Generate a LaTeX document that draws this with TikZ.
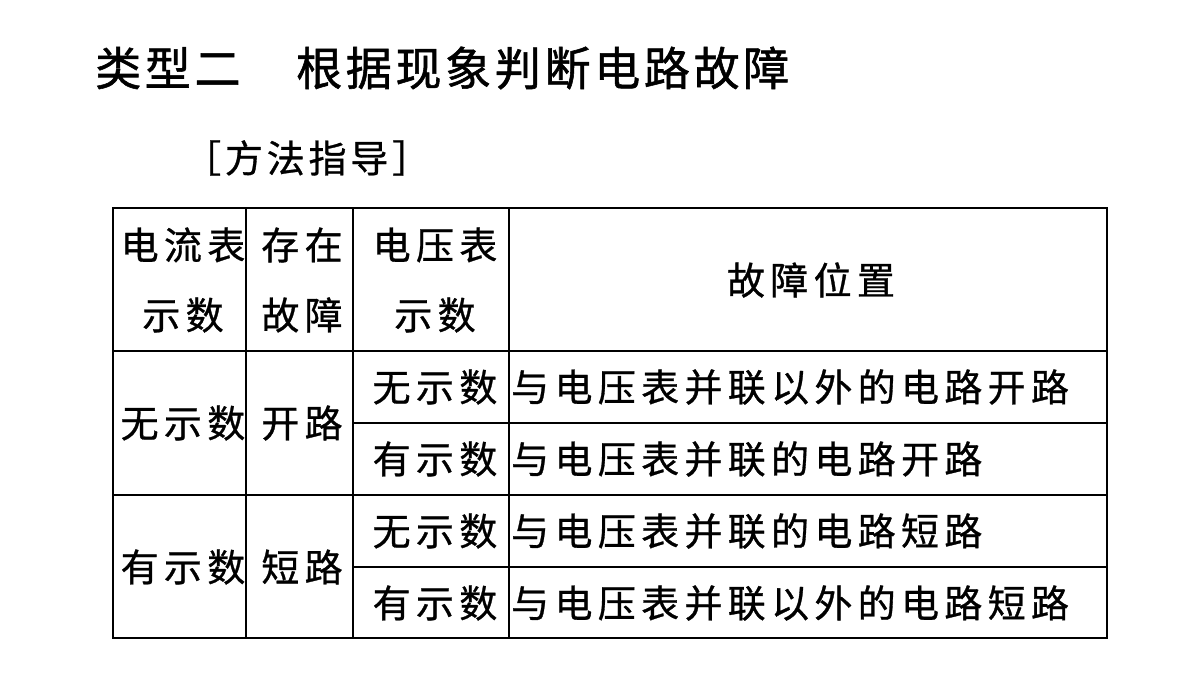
\documentclass[tikz,border=0pt]{standalone}
\usepackage{fontspec}
\newfontfamily\cjk[LetterSpace=14,FakeBold=0.8]{Noto Sans CJK SC}
\newfontfamily\cjkt[LetterSpace=8,FakeBold=1.2]{Noto Sans CJK SC}
\newfontfamily\cjks[LetterSpace=10,FakeBold=0.8]{Noto Sans CJK SC}
\begin{document}
\begin{tikzpicture}[x=1pt,y=-1pt,
  cell/.style={font=\cjk\fontsize{38}{44}\selectfont,inner sep=0pt,align=center},
  grid/.style={line width=1.3pt,black},
  frame/.style={line width=2pt,black}]
\useasboundingbox (0,0) rectangle (1200,675);
\node[font=\cjkt\fontsize{46}{50}\selectfont,anchor=west,inner sep=0pt] (title) at (95,68) {类型二};
\node[font=\cjkt\fontsize{46}{50}\selectfont,anchor=west,inner sep=0pt] (title2) at (296,68) {根据现象判断电路故障};
\node[font=\cjks\fontsize{38}{44}\selectfont,anchor=west,inner sep=0pt] (sub) at (183,158) {［方法指导］};
% grid
\draw[grid] (246,208) -- (246,638);
\draw[grid] (353,208) -- (353,638);
\draw[grid] (509,208) -- (509,638);
\draw[grid] (113,351) -- (1107,351);
\draw[grid] (353,423) -- (1107,423);
\draw[grid] (113,495) -- (1107,495);
\draw[grid] (353,567) -- (1107,567);
\draw[frame] (113,208) rectangle (1107,638);
% header
\node[cell] (h1) at (183,280) {电流表\\[26pt]示数};
\node[cell] (h2) at (302,280) {存在\\[26pt]故障};
\node[cell] (h3) at (435,280) {电压表\\[26pt]示数};
\node[cell] (h4) at (811,280) {故障位置};
% body
\node[cell] (a1) at (183,423) {无示数};
\node[cell] (a2) at (302,423) {开路};
\node[cell] (b1) at (183,567) {有示数};
\node[cell] (b2) at (302,567) {短路};
\node[cell] (r1) at (435,387) {无示数};
\node[cell] (r2) at (435,459) {有示数};
\node[cell] (r3) at (435,531) {无示数};
\node[cell] (r4) at (435,603) {有示数};
\node[cell,anchor=west] (t1) at (511,387) {与电压表并联以外的电路开路};
\node[cell,anchor=west] (t2) at (511,459) {与电压表并联的电路开路};
\node[cell,anchor=west] (t3) at (511,531) {与电压表并联的电路短路};
\node[cell,anchor=west] (t4) at (511,603) {与电压表并联以外的电路短路};
\end{tikzpicture}
\end{document}
